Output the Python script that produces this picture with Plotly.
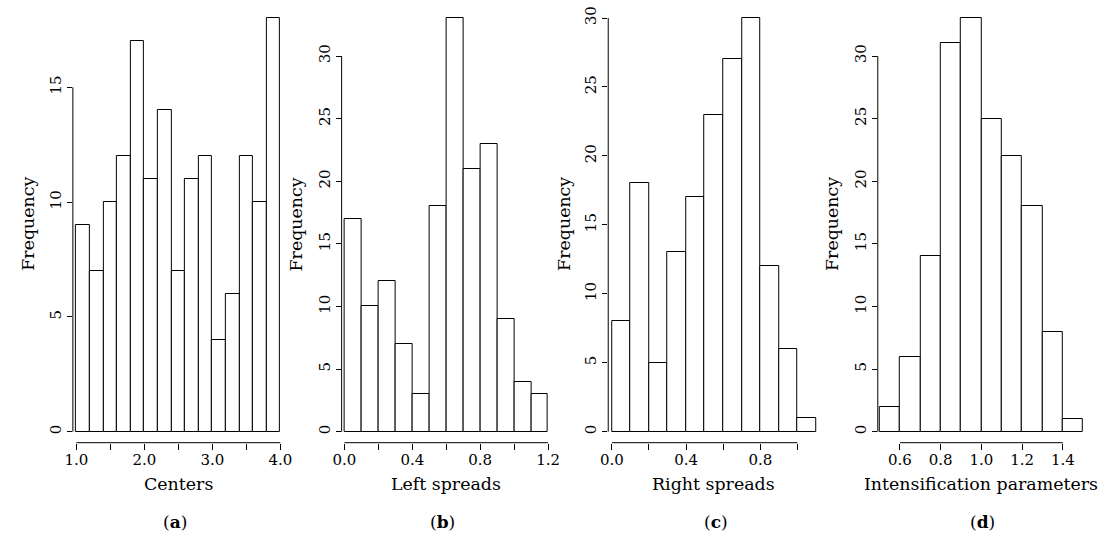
import plotly.graph_objects as go

# ---------------- data ----------------
centers_start = 1.0
centers_width = 0.2
centers_counts = [9, 7, 10, 12, 17, 11, 14, 7, 11, 12, 4, 6, 12, 10, 18]

left_start = 0.0
left_width = 0.1
left_counts = [17, 10, 12, 7, 3, 18, 33, 21, 23, 9, 4, 3]

right_start = 0.0
right_width = 0.1
right_counts = [8, 18, 5, 13, 17, 23, 27, 30, 12, 6, 1]

intens_start = 0.5
intens_width = 0.1
intens_counts = [2, 6, 14, 31, 33, 25, 22, 18, 8, 1]

x_titles = ["Centers", "Left spreads", "Right spreads", "Intensification parameters"]
panel_letters = ["a", "b", "c", "d"]

centers_xticks = [1.0, 1.5, 2.0, 2.5, 3.0, 3.5, 4.0]
centers_xlabels = ["1.0", "", "2.0", "", "3.0", "", "4.0"]
left_xticks = [0.0, 0.2, 0.4, 0.6, 0.8, 1.0, 1.2]
left_xlabels = ["0.0", "", "0.4", "", "0.8", "", "1.2"]
right_xticks = [0.0, 0.2, 0.4, 0.6, 0.8, 1.0]
right_xlabels = ["0.0", "", "0.4", "", "0.8", ""]
intens_xticks = [0.6, 0.8, 1.0, 1.2, 1.4]
intens_xlabels = ["0.6", "0.8", "1.0", "1.2", "1.4"]

centers_yticks = [0, 5, 10, 15]
other_yticks = [0, 5, 10, 15, 20, 25, 30]

# ---------------- layout geometry (pixels) ----------------
W, H = 1109, 535
FONT = "DejaVu Serif"
BASE_PX = 431.7      # pixel row of count 0
XAXIS_PX = 442.7     # pixel row of x axis line

panels = [
    dict(start=centers_start, width=centers_width, counts=centers_counts,
         xticks=centers_xticks, xlabels=centers_xlabels, yticks=centers_yticks,
         yaxis_px=64.8, cal=(1.0, 68.3, 4.0, 275.3), right_px=282,
         ytop_val=15, ytop_px=87.3, ylab_px=19, letter_px=168),
    dict(start=left_start, width=left_width, counts=left_counts,
         xticks=left_xticks, xlabels=left_xlabels, yticks=other_yticks,
         yaxis_px=337.5, cal=(0.0, 340.3, 1.2, 547.0), right_px=552,
         ytop_val=30, ytop_px=56.0, ylab_px=291.7, letter_px=440),
    dict(start=right_start, width=right_width, counts=right_counts,
         xticks=right_xticks, xlabels=right_xlabels, yticks=other_yticks,
         yaxis_px=608.0, cal=(0.0, 611.7, 1.0, 800.0), right_px=824,
         ytop_val=30, ytop_px=18.0, ylab_px=563, letter_px=717),
    dict(start=intens_start, width=intens_width, counts=intens_counts,
         xticks=intens_xticks, xlabels=intens_xlabels, yticks=other_yticks,
         yaxis_px=881.5, cal=(0.6, 904.0, 1.4, 1069.3), right_px=1096,
         ytop_val=30, ytop_px=56.0, ylab_px=835, letter_px=988),
]

fig = go.Figure()
layout = dict(
    width=W, height=H, margin=dict(l=0, r=0, t=0, b=0),
    paper_bgcolor="white", plot_bgcolor="white", showlegend=False,
    bargap=0, font=dict(family=FONT, color="black"),
)
shapes = []
annotations = []

for i, p in enumerate(panels):
    n = i + 1
    xa = "x" if n == 1 else f"x{n}"
    ya = "y" if n == 1 else f"y{n}"
    xkey = "xaxis" if n == 1 else f"xaxis{n}"
    ykey = "yaxis" if n == 1 else f"yaxis{n}"

    mids = [p["start"] + (j + 0.5) * p["width"] for j in range(len(p["counts"]))]
    fig.add_trace(go.Bar(
        x=mids, y=p["counts"], width=p["width"],
        marker=dict(color="white", line=dict(color="black", width=1)),
        xaxis=xa, yaxis=ya, hoverinfo="skip",
    ))

    v0, p0, v1, p1 = p["cal"]
    s = (p1 - p0) / (v1 - v0)
    xr = [v0 - (p0 - p["yaxis_px"]) / s, v0 + (p["right_px"] - p0) / s]
    k = (BASE_PX - p["ytop_px"]) / p["ytop_val"]
    yr = [-(XAXIS_PX - BASE_PX) / k, BASE_PX / k]

    layout[xkey] = dict(
        domain=[p["yaxis_px"] / W, p["right_px"] / W], range=xr, anchor=ya,
        showgrid=False, zeroline=False, showline=False,
        tickmode="array", tickvals=p["xticks"], ticktext=p["xlabels"],
        ticks="outside", ticklen=6, tickwidth=1, tickcolor="black",
        ticklabelstandoff=-3,
        tickfont=dict(family=FONT, size=15, color="black"),
        fixedrange=True,
    )
    layout[ykey] = dict(
        domain=[1 - XAXIS_PX / H, 1], range=yr, anchor=xa,
        showgrid=False, zeroline=False, showline=False,
        tickmode="array", tickvals=p["yticks"],
        ticktext=[str(t) for t in p["yticks"]],
        ticks="outside", ticklen=5, tickwidth=1, tickcolor="black",
        tickangle=-90, ticklabelstandoff=0,
        tickfont=dict(family=FONT, size=15, color="black"),
        fixedrange=True,
    )

    # R-style axis lines spanning first to last tick
    shapes.append(dict(type="line", xref=xa, yref=f"{ya} domain",
                       x0=p["xticks"][0], x1=p["xticks"][-1], y0=0, y1=0,
                       line=dict(color="black", width=1)))
    shapes.append(dict(type="line", xref=f"{xa} domain", yref=ya,
                       x0=0, x1=0, y0=p["yticks"][0], y1=p["yticks"][-1],
                       line=dict(color="black", width=1)))

    xmid = p["start"] + len(p["counts"]) * p["width"] / 2
    annotations.append(dict(text=x_titles[i], xref=xa, yref="paper",
                            x=xmid, y=1 - 484 / H, showarrow=False,
                            xanchor="center", yanchor="middle",
                            font=dict(family=FONT, size=17.4, color="black")))
    annotations.append(dict(text="Frequency", xref="paper", yref="paper",
                            x=p["ylab_px"] / W, y=1 - 224 / H, textangle=-90,
                            showarrow=False, xanchor="center", yanchor="middle",
                            font=dict(family=FONT, size=17.4, color="black")))
    annotations.append(dict(text=f"(<b>{panel_letters[i]}</b>)", xref="paper",
                            yref="paper", x=p["letter_px"] / W, y=1 - 522 / H,
                            showarrow=False, xanchor="center", yanchor="middle",
                            font=dict(family=FONT, size=17, color="black")))

layout["shapes"] = shapes
layout["annotations"] = annotations
fig.update_layout(**layout)
fig.write_html("out.html")
